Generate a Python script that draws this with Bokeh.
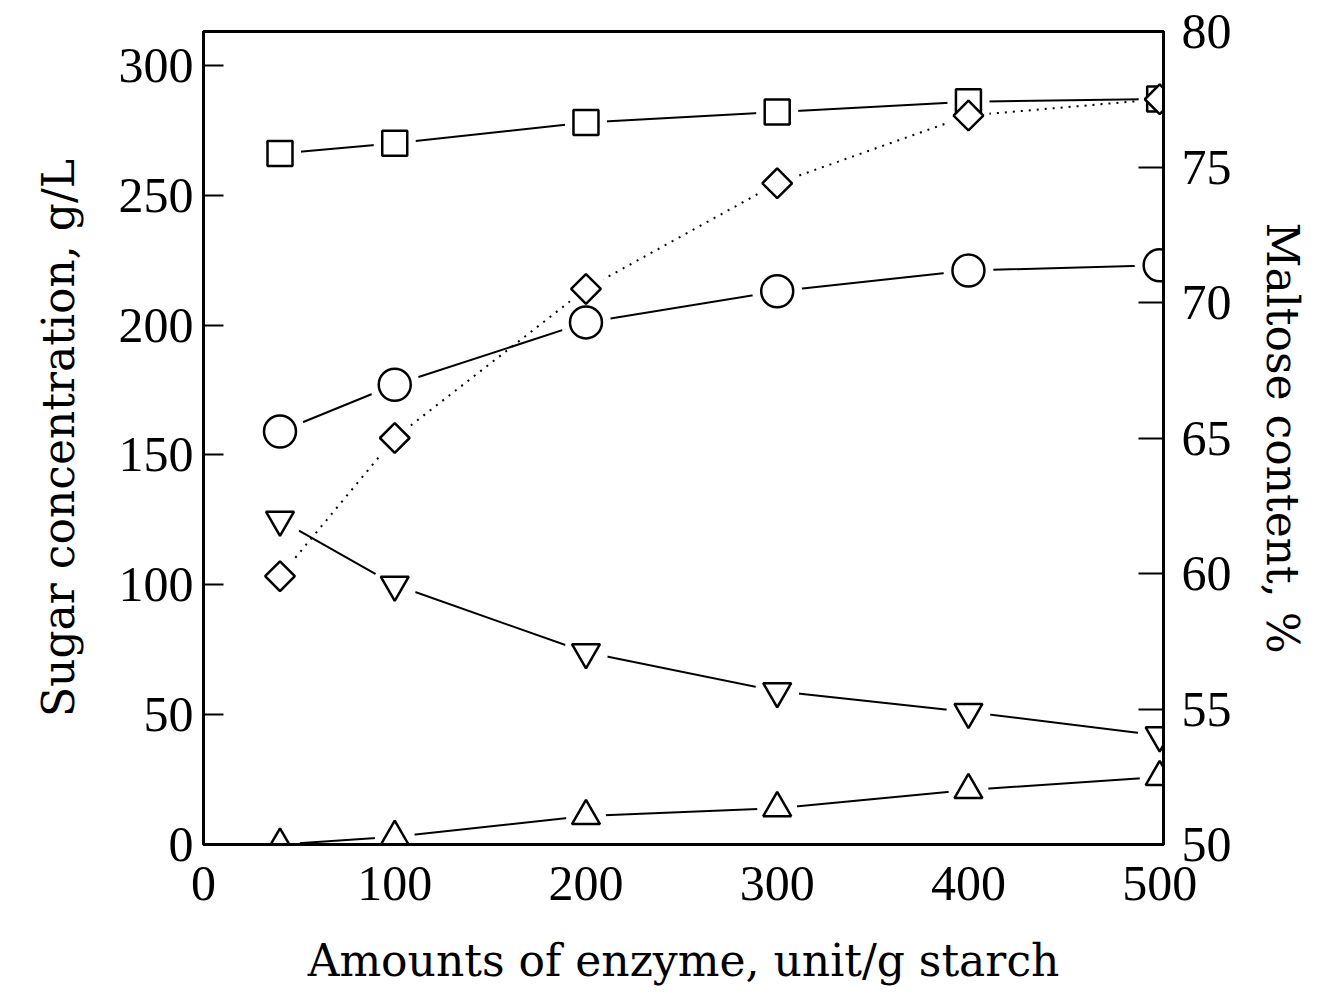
import math
from bokeh.plotting import figure
from bokeh.models import Range1d, LinearAxis, FixedTicker
from bokeh.embed import file_html
from bokeh.resources import INLINE

# ---- data ----
enzyme = [40, 100, 200, 300, 400, 500]
total_sugar = [266, 270, 278, 282, 286, 287]        # squares, g/L
maltose_conc = [159, 177, 201, 213, 221, 223]       # circles, g/L
down_series = [125, 100, 74, 59, 51, 42]            # inverted triangles, g/L
up_series = [0, 3, 11, 14, 21, 26]                  # triangles, g/L
maltose_pct = [59.9, 65.0, 70.5, 74.4, 76.9, 77.5]  # diamonds, %

x_ticks = [0, 100, 200, 300, 400, 500]
left_ticks = [0, 50, 100, 150, 200, 250, 300]
right_ticks = [50, 55, 60, 65, 70, 75, 80]

x_title = "Amounts of enzyme, unit/g starch"
left_title = "Sugar concentration, g/L"
right_title = "Maltose content, %"

TICK_FONT = "Liberation Serif"
LABEL_FONT = "DejaVu Serif"

p = figure(width=1315, height=988,
           x_range=Range1d(0, 502), y_range=Range1d(0, 313),
           output_backend="svg", toolbar_location=None,
           min_border_left=203, min_border_right=152,
           min_border_top=31, min_border_bottom=137)
p.extra_y_ranges = {"pct": Range1d(50, 80)}
p.grid.visible = False
p.outline_line_color = "black"
p.outline_line_width = 3
p.background_fill_color = "white"
p.border_fill_color = "white"

right = LinearAxis(y_range_name="pct")
p.add_layout(right, "right")

def style_axis(ax, ticks, tick_in, label, label_standoff, tick_standoff):
    ax.ticker = FixedTicker(ticks=ticks)
    ax.axis_line_width = 3
    ax.axis_line_color = "black"
    ax.major_tick_in = tick_in
    ax.major_tick_out = 0
    ax.major_tick_line_width = 2
    ax.minor_tick_line_color = None
    ax.major_label_text_font = TICK_FONT
    ax.major_label_text_font_size = "50px"
    ax.major_label_text_color = "black"
    ax.major_label_standoff = tick_standoff
    ax.axis_label = label
    ax.axis_label_text_font = LABEL_FONT
    ax.axis_label_text_font_size = "44px"
    ax.axis_label_text_font_style = "normal"
    ax.axis_label_text_color = "black"
    ax.axis_label_standoff = label_standoff

style_axis(p.xaxis[0], x_ticks, 0, x_title, 32, 22)
style_axis(p.yaxis[0], left_ticks, 20, left_title, 32, 10)
style_axis(right, right_ticks, 25, right_title, 22, 18)
right.axis_label_orientation = "vertical"

LW = 2
# ---- connecting lines ----
p.line(enzyme, total_sugar, line_color="black", line_width=LW)
p.line(enzyme, maltose_conc, line_color="black", line_width=LW)
p.line(enzyme, down_series, line_color="black", line_width=LW)
p.line(enzyme, up_series, line_color="black", line_width=LW)
p.line(enzyme, maltose_pct, line_color="black", line_width=LW,
       line_dash="2 6", y_range_name="pct")

# ---- white halos so lines stop short of the markers ----
p.scatter(enzyme, total_sugar, marker="square", size=42, fill_color="white", line_color=None)
p.scatter(enzyme, maltose_conc, marker="circle", size=50, fill_color="white", line_color=None)
p.scatter(enzyme, down_series, marker="circle", size=44, fill_color="white", line_color=None)
p.scatter(enzyme, up_series, marker="circle", size=40, fill_color="white", line_color=None)
p.scatter(enzyme, maltose_pct, marker="circle", size=40, fill_color="white", line_color=None,
          y_range_name="pct")

# ---- markers ----
p.scatter(enzyme, total_sugar, marker="square", size=25, fill_color="white",
          line_color="black", line_width=2.5)
p.scatter(enzyme, maltose_conc, marker="circle", size=32, fill_color="white",
          line_color="black", line_width=2.5)
p.scatter(enzyme, down_series, marker="inverted_triangle", size=28, fill_color="white",
          line_color="black", line_width=2.5)
p.scatter(enzyme, up_series, marker="triangle", size=28, fill_color="white",
          line_color="black", line_width=2.5)
p.scatter(enzyme, maltose_pct, marker="square", angle=math.pi / 4, size=21,
          fill_color="white", line_color="black", line_width=2.5, y_range_name="pct")

open("out.html", "w").write(file_html(p, INLINE))
